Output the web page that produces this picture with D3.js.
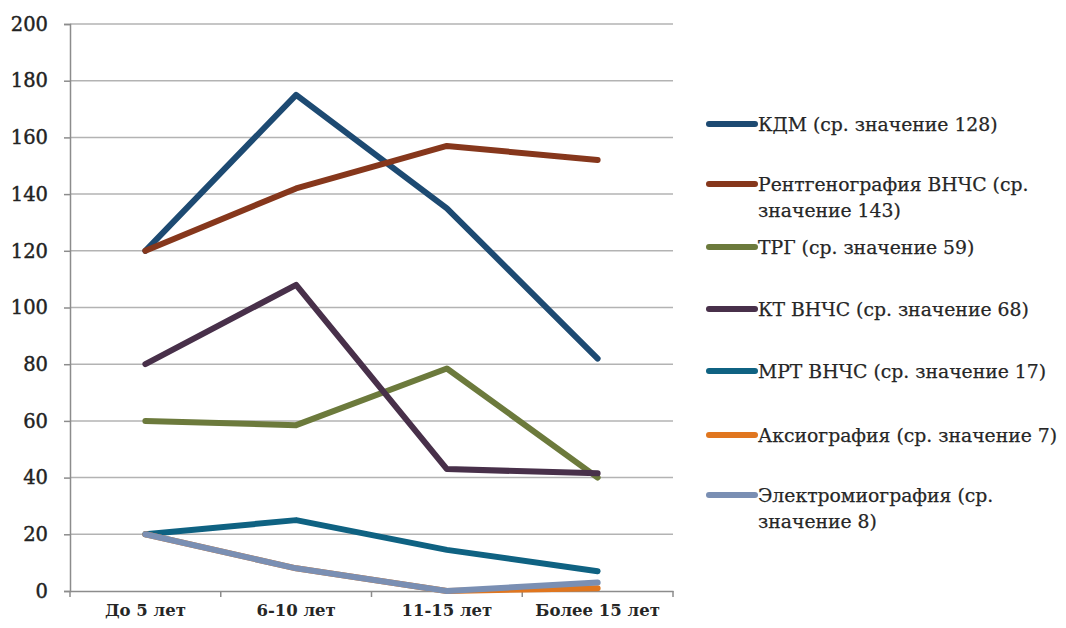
<!DOCTYPE html>
<html><head><meta charset="utf-8">
<script src="https://cdn.jsdelivr.net/npm/d3@7"></script>
<style>html,body{margin:0;padding:0;background:#fff;}svg{display:block;}</style>
</head><body>
<svg id="chart" width="1066" height="628"></svg>
<script>
const categories = ["До 5 лет", "6-10 лет", "11-15 лет", "Более 15 лет"];
const yTicks = [0, 20, 40, 60, 80, 100, 120, 140, 160, 180, 200];
const seriesNames = [
  ["КДМ (ср. значение 128)"],
  ["Рентгенография ВНЧС (ср.", "значение 143)"],
  ["ТРГ (ср. значение 59)"],
  ["КТ ВНЧС (ср. значение 68)"],
  ["МРТ ВНЧС (ср. значение 17)"],
  ["Аксиография (ср. значение 7)"],
  ["Электромиография (ср.", "значение 8)"]
];
const kdm = [120, 175, 135, 82];
const rentgen = [120, 142, 157, 152];
const trg = [60, 58.5, 78.5, 40];
const kt = [80, 108, 43, 41.5];
const mrt = [20, 25, 14.5, 7];
const axio = [20, 8, 0, 1];
const emg = [20, 8, 0, 3];
const seriesValues = [kdm, rentgen, trg, kt, mrt, axio, emg];
const colors = ["#1d4a72", "#86371c", "#6c7a3c", "#48304a", "#0f6282", "#e0761f", "#7a8fb3"];

(function () {
const svg = d3.select("#chart");
const mLeft = 70, mRight = 673, mTop = 24, mBottom = 591;
const x = d3.scaleBand().domain(categories).range([mLeft, mRight]);
const y = d3.scaleLinear().domain([0, 200]).range([mBottom, mTop]);
const font = "'DejaVu Serif', serif";

// gridlines
svg.append("g").selectAll("line").data(yTicks.filter(d => d > 0)).join("line")
  .attr("x1", mLeft).attr("x2", mRight)
  .attr("y1", d => y(d)).attr("y2", d => y(d))
  .attr("stroke", "#b3b3b3").attr("stroke-width", 1.5);

// y axis
const yAxis = svg.append("g").attr("transform", `translate(${mLeft},0)`)
  .call(d3.axisLeft(y).tickValues(yTicks).tickSize(6).tickPadding(16));
yAxis.select(".domain").attr("stroke", "#8c8c8c").attr("stroke-width", 1.5);
yAxis.selectAll(".tick line").attr("stroke", "#8c8c8c").attr("stroke-width", 1.5);
yAxis.selectAll("text").attr("font-family", font).attr("font-size", 19.5).attr("fill", "#222")
  .attr("stroke", "#222").attr("stroke-width", 0.4);

// x axis
const xAxis = svg.append("g").attr("transform", `translate(0,${mBottom})`)
  .call(d3.axisBottom(x).tickSize(0).tickPadding(13));
xAxis.select(".domain").attr("stroke", "#8c8c8c").attr("stroke-width", 1.5);
xAxis.selectAll("text").attr("font-family", font).attr("font-size", 16.5).attr("fill", "#262626").attr("font-weight", "bold");
const edges = x.domain().map(d => x(d)).concat([x(categories[categories.length-1]) + x.bandwidth()]);
svg.append("g").selectAll("line").data(edges).join("line")
  .attr("x1", d => d).attr("x2", d => d).attr("y1", mBottom).attr("y2", mBottom + 6)
  .attr("stroke", "#8c8c8c").attr("stroke-width", 1.5);

// lines
const line = d3.line().x((d, i) => x(categories[i]) + x.bandwidth() / 2).y(d => y(d));
svg.append("g").selectAll("path").data(seriesValues).join("path")
  .attr("d", d => line(d))
  .attr("fill", "none")
  .attr("stroke", (d, i) => colors[i])
  .attr("stroke-width", 6)
  .attr("stroke-linecap", "round")
  .attr("stroke-linejoin", "round");

// legend
const legendY = [124, 184, 247, 309, 371, 435, 495];
const lg = svg.append("g");
seriesNames.forEach((lines, i) => {
  const g = lg.append("g").attr("transform", `translate(0,${legendY[i]})`);
  g.append("line").attr("x1", 709).attr("x2", 755).attr("y1", 0).attr("y2", 0)
    .attr("stroke", colors[i]).attr("stroke-width", 6).attr("stroke-linecap", "round");
  lines.forEach((t, j) => {
    g.append("text").attr("x", 758).attr("y", j * 26).attr("dy", "0.35em")
      .attr("font-family", font).attr("font-size", 18.8).attr("fill", "#262626")
      .attr("stroke", "#262626").attr("stroke-width", 0.25)
      .text(t);
  });
});
})();
</script>
</body></html>
